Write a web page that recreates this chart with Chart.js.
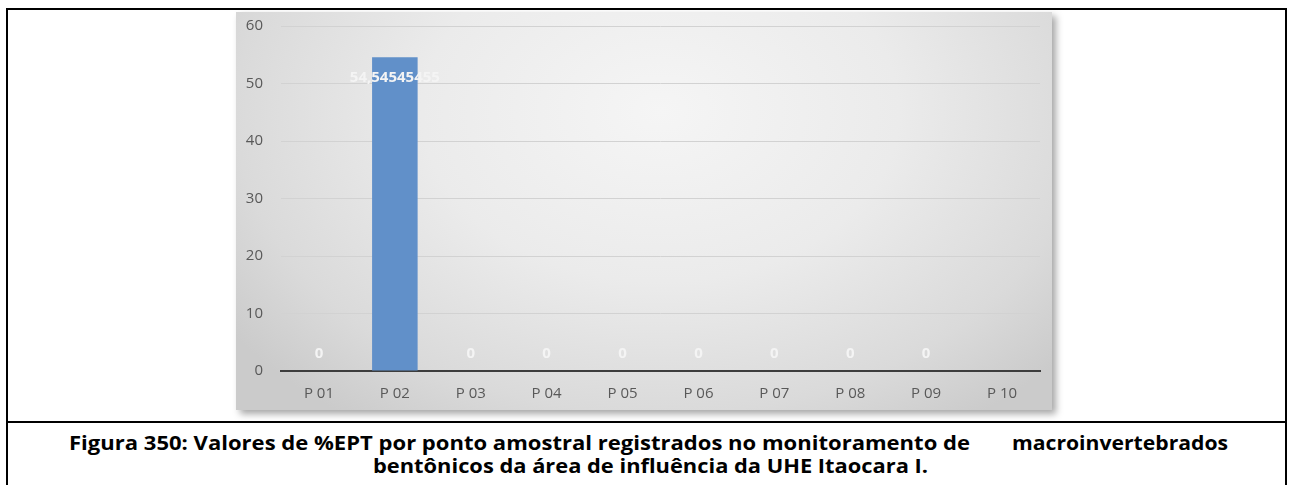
<!DOCTYPE html>
<html>
<head>
<meta charset="utf-8">
<script src="https://cdn.jsdelivr.net/npm/chart.js@4.4.1/dist/chart.umd.min.js"></script>
<style>
  html, body { margin: 0; padding: 0; background: #fff; width: 1289px; height: 485px; overflow: hidden; }
  #frame { position: absolute; left: 6px; top: 8px; width: 1281px; height: 480px; border: 2px solid #000; border-bottom: none; box-sizing: border-box; }
  #sep { position: absolute; left: 6px; top: 421px; width: 1281px; height: 2px; background: #000; }
  #panel { position: absolute; left: 236px; top: 12px; width: 816px; height: 398px;
    background: radial-gradient(ellipse 65% 95% at 52% 25%, #f5f5f5 0%, #ebebeb 45%, #dadada 80%, #cbcbcb 100%);
    box-shadow: 4px 4px 7px rgba(0,0,0,0.35); }
  #panel canvas { position: absolute; left: 0; top: -13px; }
  .cap { position: absolute; font-family: "Open Sans", sans-serif; font-weight: bold; font-size: 20px; line-height: 23px;
    color: #000; white-space: pre; transform-origin: 0 0; }
</style>
</head>
<body>
<div id="frame"></div>
<div id="sep"></div>
<div id="panel"><canvas id="c" width="816" height="411"></canvas></div>
<div class="cap" id="cap1a" data-left="69" data-right="970" style="top:431px">Figura 350: Valores de %EPT por ponto amostral registrados no monitoramento de</div>
<div class="cap" id="cap1b" data-left="1012" data-right="1228" style="top:431px">macroinvertebrados</div>
<div class="cap" id="cap2" data-left="373" data-right="928" style="top:454px">bentônicos da área de influência da UHE Itaocara I.</div>
<script>
const categories = ['P 01', 'P 02', 'P 03', 'P 04', 'P 05', 'P 06', 'P 07', 'P 08', 'P 09', 'P 10'];
const eptValues = [0, 54.54545455, 0, 0, 0, 0, 0, 0, 0, null];
const yMin = 0;
const yMax = 60;
const yStep = 10;

// fit caption lines to their measured extents
document.querySelectorAll('.cap').forEach(el => {
  const l = +el.dataset.left, r = +el.dataset.right;
  el.style.left = l + 'px';
  const w = el.getBoundingClientRect().width;
  el.style.transform = 'scaleX(' + ((r - l) / w) + ')';
});

const valueLabels = {
  id: 'valueLabels',
  afterDatasetsDraw(chart) {
    const ctx = chart.ctx;
    const meta = chart.getDatasetMeta(0);
    ctx.save();
    ctx.fillStyle = '#f4f4f4';
    ctx.font = 'bold 15px "Open Sans", sans-serif';
    ctx.textAlign = 'center';
    ctx.textBaseline = 'middle';
    meta.data.forEach((bar, i) => {
      const v = eptValues[i];
      if (v === null || v === undefined) return;
      const txt = String(v).replace('.', ',');
      const y = v === 0 ? bar.base - 17.5 : bar.y + 20.5;
      ctx.fillText(txt, bar.x, y);
    });
    ctx.restore();
  }
};

new Chart(document.getElementById('c'), {
  type: 'bar',
  data: {
    labels: categories,
    datasets: [{
      data: eptValues,
      backgroundColor: '#6190c9',
      borderWidth: 0,
      categoryPercentage: 1.0,
      barPercentage: 0.6
    }]
  },
  options: {
    responsive: false,
    animation: false,
    layout: { padding: { top: 1, right: 12, left: 0, bottom: 0 } },
    plugins: { legend: { display: false }, tooltip: { enabled: false } },
    scales: {
      x: {
        grid: { display: false, drawTicks: false },
        border: { display: true, color: '#3d3d3d', width: 2 },
        ticks: { color: '#595959', font: { family: '"Open Sans", sans-serif', size: 15 }, padding: 14, maxRotation: 0 },
        afterFit(s) { s.height = 39; }
      },
      y: {
        min: yMin, max: yMax,
        grid: { color: '#d2d2d2', lineWidth: 1, drawTicks: false },
        border: { display: false },
        ticks: { stepSize: yStep, color: '#595959', font: { family: '"Open Sans", sans-serif', size: 15 }, padding: 18 },
        afterFit(s) { s.width = 45; }
      }
    }
  },
  plugins: [valueLabels]
});
</script>
</body>
</html>
